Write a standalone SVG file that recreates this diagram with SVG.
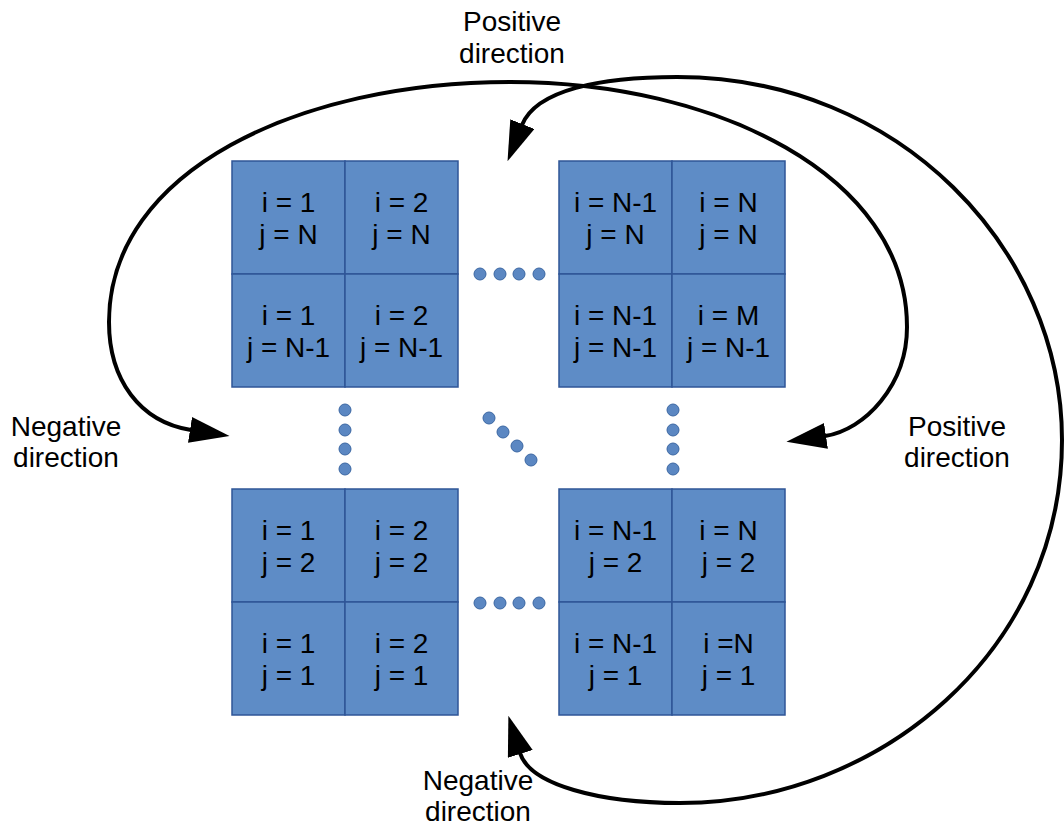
<svg xmlns="http://www.w3.org/2000/svg" width="1064" height="832" viewBox="0 0 1064 832">
<style>
.cell rect{fill:#5e8cc6;stroke:#2f5597;stroke-width:1.5}
.cell text,.label{font-family:"Liberation Sans",Arial,sans-serif;font-size:28px;fill:#000;text-anchor:middle}
.dot{fill:#5b87c2;stroke:#3b67a3;stroke-width:1}
.conn{fill:none;stroke:#000;stroke-width:4;marker-start:url(#ah);marker-end:url(#ah)}
</style>
<defs>
<marker id="ah" markerUnits="userSpaceOnUse" markerWidth="40" markerHeight="26" viewBox="0 0 40 26" refX="1" refY="13" orient="auto-start-reverse">
<path d="M0,0 L40,13 L0,26 Z" fill="#000"/>
</marker>
</defs>
<rect width="1064" height="832" fill="#fff"/>

<g id="cell-1-N" class="cell"><rect x="232" y="161" width="113" height="113"/><text x="288.5"><tspan x="288.5" y="211.5">i = 1</tspan><tspan x="288.5" y="243.5">j = N</tspan></text></g>
<g id="cell-2-N" class="cell"><rect x="345" y="161" width="113" height="113"/><text><tspan x="401.5" y="211.5">i = 2</tspan><tspan x="401.5" y="243.5">j = N</tspan></text></g>
<g id="cell-1-N-1" class="cell"><rect x="232" y="274" width="113" height="113"/><text><tspan x="288.5" y="324.5">i = 1</tspan><tspan x="288.5" y="356.5">j = N-1</tspan></text></g>
<g id="cell-2-N-1" class="cell"><rect x="345" y="274" width="113" height="113"/><text><tspan x="401.5" y="324.5">i = 2</tspan><tspan x="401.5" y="356.5">j = N-1</tspan></text></g>

<g id="cell-N-1-N" class="cell"><rect x="559" y="161" width="113" height="113"/><text><tspan x="615.5" y="211.5">i = N-1</tspan><tspan x="615.5" y="243.5">j = N</tspan></text></g>
<g id="cell-N-N" class="cell"><rect x="672" y="161" width="113" height="113"/><text><tspan x="728.5" y="211.5">i = N</tspan><tspan x="728.5" y="243.5">j = N</tspan></text></g>
<g id="cell-N-1-N-1" class="cell"><rect x="559" y="274" width="113" height="113"/><text><tspan x="615.5" y="324.5">i = N-1</tspan><tspan x="615.5" y="356.5">j = N-1</tspan></text></g>
<g id="cell-M-N-1" class="cell"><rect x="672" y="274" width="113" height="113"/><text><tspan x="728.5" y="324.5">i = M</tspan><tspan x="728.5" y="356.5">j = N-1</tspan></text></g>

<g id="cell-1-2" class="cell"><rect x="232" y="489" width="113" height="113"/><text><tspan x="288.5" y="539.5">i = 1</tspan><tspan x="288.5" y="571.5">j = 2</tspan></text></g>
<g id="cell-2-2" class="cell"><rect x="345" y="489" width="113" height="113"/><text><tspan x="401.5" y="539.5">i = 2</tspan><tspan x="401.5" y="571.5">j = 2</tspan></text></g>
<g id="cell-1-1" class="cell"><rect x="232" y="602" width="113" height="113"/><text><tspan x="288.5" y="652.5">i = 1</tspan><tspan x="288.5" y="684.5">j = 1</tspan></text></g>
<g id="cell-2-1" class="cell"><rect x="345" y="602" width="113" height="113"/><text><tspan x="401.5" y="652.5">i = 2</tspan><tspan x="401.5" y="684.5">j = 1</tspan></text></g>

<g id="cell-N-1-2" class="cell"><rect x="559" y="489" width="113" height="113"/><text><tspan x="615.5" y="539.5">i = N-1</tspan><tspan x="615.5" y="571.5">j = 2</tspan></text></g>
<g id="cell-N-2" class="cell"><rect x="672" y="489" width="113" height="113"/><text><tspan x="728.5" y="539.5">i = N</tspan><tspan x="728.5" y="571.5">j = 2</tspan></text></g>
<g id="cell-N-1-1" class="cell"><rect x="559" y="602" width="113" height="113"/><text><tspan x="615.5" y="652.5">i = N-1</tspan><tspan x="615.5" y="684.5">j = 1</tspan></text></g>
<g id="cell-N-1" class="cell"><rect x="672" y="602" width="113" height="113"/><text><tspan x="728.5" y="652.5">i =N</tspan><tspan x="728.5" y="684.5">j = 1</tspan></text></g>

<g id="ellipsis">
<circle class="dot" cx="480" cy="274" r="6"/><circle class="dot" cx="500" cy="274" r="6"/><circle class="dot" cx="519" cy="274" r="6"/><circle class="dot" cx="539" cy="274" r="6"/>
<circle class="dot" cx="480" cy="603" r="6"/><circle class="dot" cx="500" cy="603" r="6"/><circle class="dot" cx="519" cy="603" r="6"/><circle class="dot" cx="539" cy="603" r="6"/>
<circle class="dot" cx="345" cy="410" r="6"/><circle class="dot" cx="345" cy="430" r="6"/><circle class="dot" cx="345" cy="449" r="6"/><circle class="dot" cx="345" cy="469" r="6"/>
<circle class="dot" cx="673" cy="410" r="6"/><circle class="dot" cx="673" cy="430" r="6"/><circle class="dot" cx="673" cy="449" r="6"/><circle class="dot" cx="673" cy="469" r="6"/>
<circle class="dot" cx="489" cy="418" r="6"/><circle class="dot" cx="503" cy="432" r="6"/><circle class="dot" cx="517" cy="446" r="6"/><circle class="dot" cx="531" cy="460" r="6"/>
</g>

<g id="connectors">
<path class="conn" d="M522,125 C536,90 600,77 677,77 C900,77 1062,250 1062,440 C1062,650 880,803 680,803 C600,803 530,785 520,753"/>
<path class="conn" d="M191,430 C140,422 109,380 109,322 C109,170 300,82 510,82 C716,82 907,175 907,327 C907,385 865,430 825,436"/>
</g>

<g id="labels">
<text class="label"><tspan x="512" y="31">Positive</tspan><tspan x="512" y="63">direction</tspan></text>
<text class="label"><tspan x="66" y="436">Negative</tspan><tspan x="66" y="467">direction</tspan></text>
<text class="label"><tspan x="957" y="436">Positive</tspan><tspan x="957" y="467">direction</tspan></text>
<text class="label"><tspan x="478" y="790">Negative</tspan><tspan x="478" y="821">direction</tspan></text>
</g>
</svg>
